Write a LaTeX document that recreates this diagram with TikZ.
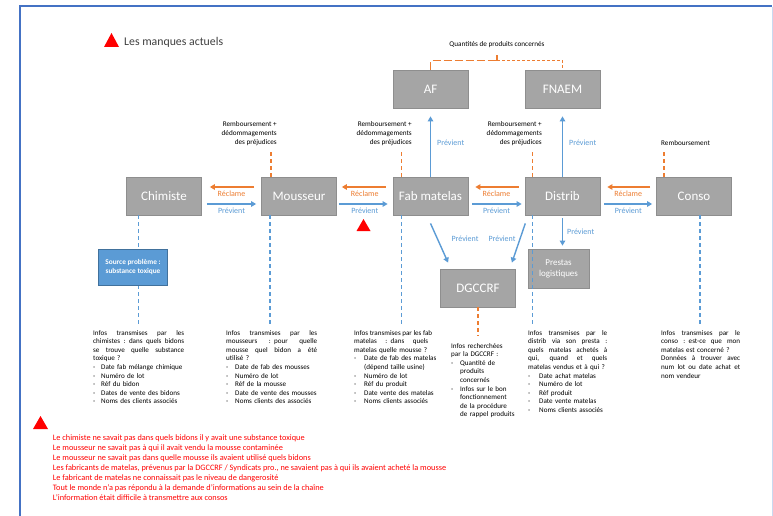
\documentclass[tikz,border=0pt]{standalone}
\usepackage{fontspec}
\setmainfont{Carlito}
\usetikzlibrary{arrows.meta,calc}
\definecolor{boxgray}{HTML}{A5A5A5}
\definecolor{boxedge}{HTML}{8E8E8E}
\definecolor{corange}{HTML}{ED7D31}
\definecolor{cblue}{HTML}{5B9BD5}
\definecolor{frameblue}{HTML}{4472C4}
\definecolor{framelight}{HTML}{C9D9F0}
\definecolor{srcedge}{HTML}{41719C}
\definecolor{legendtext}{HTML}{3F3F3F}
\definecolor{cred}{HTML}{FF0000}
\newcommand\jl[1]{\makebox[\hsize][s]{\spaceskip=0.3em plus 3em minus 0.08em\relax #1}\\}
\newcommand\bl[2][9pt]{\makebox[#1][l]{-}\mbox{#2}}
\newcommand\cl[2][9pt]{\hspace*{#1}\mbox{#2}}
\newcommand\pl[1]{\mbox{#1}}
\begin{document}
\begin{tikzpicture}[x=1pt,y=-1pt,
  box/.style={draw=boxedge, line width=0.8pt, fill=boxgray, minimum width=75pt, minimum height=38pt,
    text=white, font=\fontsize{13}{15}\selectfont, inner sep=0pt},
  oarr/.style={draw=corange, line width=1.4pt, -{Triangle[length=5pt,width=5.5pt]}},
  barr/.style={draw=cblue, line width=1.4pt, -{Triangle[length=5pt,width=5.5pt]}},
  odash/.style={draw=corange, line width=1.3pt, dash pattern=on 4pt off 3pt},
  bdash/.style={draw=cblue, line width=1.3pt, dash pattern=on 4pt off 3pt},
  rlbl/.style={text=corange, font=\fontsize{8}{9.6}\selectfont, inner sep=0pt},
  plbl/.style={text=cblue, font=\fontsize{8}{9.6}\selectfont, inner sep=0pt},
  rblabel/.style={font=\fontsize{7.2}{9}\selectfont, inner sep=0pt, align=right},
  info/.style={font=\fontsize{7.1}{8.6}\selectfont, inner sep=0pt, anchor=north west, align=left}
]
\useasboundingbox (0,0) rectangle (773,516);
\fill[white] (0,0) rectangle (773,516);
% frame
\draw[frameblue, line width=1.8pt] (20.2,516) -- (20.2,5.8) -- (772,5.8);
\draw[framelight, line width=0.8pt] (772.3,6.7) -- (772.3,516);

% legend
\fill[cred] (104,47) -- (111.5,33) -- (119,47) -- cycle;
\node[anchor=west, inner sep=0pt, text=legendtext, font=\fontsize{11.8}{14}\selectfont] (legend) at (124,42) {Les manques actuels};

% boxes
\node[box] (af) at (430.5,89) {AF};
\node[box] (fnaem) at (562.5,89) {FNAEM};
\node[box] (chim) at (164,196) {Chimiste};
\node[box] (mous) at (299,196) {Mousseur};
\node[box] (fab) at (430.5,196) {Fab matelas};
\node[box] (dist) at (562.5,196) {Distrib};
\node[box] (conso) at (694,196) {Conso};
\node[box] (dgccrf) at (478,288) {DGCCRF};
\node[box, minimum width=61pt, minimum height=39pt, align=center, font=\fontsize{9}{11}\selectfont] (presta) at (558.5,268.5) {Prestas\\logistiques};

% top: quantities
\node[inner sep=0pt, font=\fontsize{7.2}{9}\selectfont] (qty) at (497,45) {Quantités de produits concernés};
\coordinate (qj) at (497,60.7);
\coordinate (qt) at (497,55.5);
\draw[draw=corange, line width=1.4pt, dash pattern=on 8pt off 3pt] (af.north) |- (qj);
\draw[draw=corange, line width=1.2pt] (qj) -- (qt);
\draw[draw=corange, line width=0.7pt, dash pattern=on 3pt off 2pt] (qj) -| (fnaem.north);

% remboursement labels
\node[rblabel, anchor=south east] (rmous) at (277,146) {Remboursement +\\dédommagements\\des préjudices};
\node[rblabel, anchor=south east] (rfab) at (412,146) {Remboursement +\\dédommagements\\des préjudices};
\node[rblabel, anchor=south east] (rdist) at (542,146) {Remboursement +\\dédommagements\\des préjudices};
\node[rblabel, anchor=south west] (rconso) at (661,146) {Remboursement};
\draw[odash, shorten >=4pt] ([xshift=10pt]mous.north west) -- ([xshift=10pt]mous.north west |- rmous.south);
\draw[odash, shorten >=4pt] ([xshift=9pt]fab.north west) -- ([xshift=9pt]fab.north west |- rfab.south);
\draw[odash, shorten >=4pt] ([xshift=8pt]dist.north west) -- ([xshift=8pt]dist.north west |- rdist.south);
\draw[odash, shorten >=4pt] ([xshift=8pt]conso.north west) -- ([xshift=8pt]conso.north west |- rconso.south);

% horizontal arrows
\draw[oarr, shorten <=7pt, shorten >=8pt] ([yshift=9pt]mous.west) -- ([yshift=9pt]chim.east) node[rlbl, midway, yshift=-7pt] {Réclame};
\draw[barr, shorten <=5pt, shorten >=5pt] ([yshift=-8pt]chim.east) -- ([yshift=-8pt]mous.west) node[plbl, midway, yshift=-7pt] {Prévient};
\draw[oarr, shorten <=7pt, shorten >=5pt] ([yshift=9pt]fab.west) -- ([yshift=9pt]mous.east) node[rlbl, midway, yshift=-7pt] {Réclame};
\draw[barr, shorten <=2pt, shorten >=5pt] ([yshift=-8pt]mous.east) -- ([yshift=-8pt]fab.west) node[plbl, midway, yshift=-7pt] {Prévient};
\draw[oarr, shorten <=6pt, shorten >=7pt] ([yshift=9pt]dist.west) -- ([yshift=9pt]fab.east) node[rlbl, midway, yshift=-7pt] {Réclame};
\draw[barr, shorten <=4pt, shorten >=3pt] ([yshift=-8pt]fab.east) -- ([yshift=-8pt]dist.west) node[plbl, midway, yshift=-7pt] {Prévient};
\draw[oarr, shorten <=6pt, shorten >=7pt] ([yshift=9pt]conso.west) -- ([yshift=9pt]dist.east) node[rlbl, midway, yshift=-7pt] {Réclame};
\draw[barr, shorten <=4pt, shorten >=4pt] ([yshift=-8pt]dist.east) -- ([yshift=-8pt]conso.west) node[plbl, midway, yshift=-7pt] {Prévient};

% red triangle between Mousseur and Fab
\fill[cred] (356.5,231) -- (363.5,219) -- (370.5,231) -- cycle;

% vertical arrows up
\draw[barr, shorten >=8pt] (fab.north) -- (af.south) node[plbl, midway, anchor=west, xshift=6pt] {Prévient};
\draw[barr, shorten >=8pt] (dist.north) -- (fnaem.south) node[plbl, midway, anchor=west, xshift=6pt] {Prévient};
% to prestas
\draw[barr, shorten <=3pt, shorten >=3pt] (dist.south) -- (dist.south |- presta.north) node[plbl, midway, anchor=west, xshift=4pt] {Prévient};
% diagonals to DGCCRF
\draw[barr] ([yshift=-8pt]fab.south) -- ([xshift=8pt,yshift=6pt]dgccrf.north west);
\draw[barr] ([xshift=0.7pt,yshift=-8pt]dist.south west) -- ([xshift=-4pt,yshift=6pt]dgccrf.north east);
\node[plbl] (pv1) at (465,239) {Prévient};
\node[plbl] (pv2) at (502,239) {Prévient};

% info texts
\node[info, text width=91pt] (ichim) at (93,330) {%
\jl{Infos transmises par les}
\jl{chimistes : dans quels bidons}
\jl{se trouve quelle substance}
\pl{toxique ?}\\
\bl[8pt]{Date fab mélange chimique}\\
\bl[8pt]{Numéro de lot}\\
\bl[8pt]{Réf du bidon}\\
\bl[8pt]{Dates de vente des bidons}\\
\bl[8pt]{Noms des clients associés}};

\node[info, text width=91pt] (imous) at (226,330) {%
\jl{Infos transmises par les}
\jl{mousseurs : pour quelle}
\jl{mousse quel bidon a été}
\pl{utilisé ?}\\
\bl{Date de fab des mousses}\\
\bl{Numéro de lot}\\
\bl{Réf de la mousse}\\
\bl{Date de vente des mousses}\\
\bl{Noms clients des associés}};

\node[info, text width=74pt] (ifab) at (354,330) {%
\jl{Infos transmises par les fab}
\jl{matelas : dans quels}
\pl{matelas quelle mousse ?}\\
\bl[10pt]{Date de fab des matelas}\\
\cl[10pt]{(dépend taille usine)}\\
\bl[10pt]{Numéro de lot}\\
\bl[10pt]{Réf du produit}\\
\bl[10pt]{Date vente des matelas}\\
\bl[10pt]{Noms clients associés}};

\node[info, text width=80pt] (idg) at (451,343) {%
\pl{Infos recherchées}\\
\pl{par la DGCCRF :}\\
\bl{Quantité de}\\
\cl{produits}\\
\cl{concernés}\\
\bl{Infos sur le bon}\\
\cl{fonctionnement}\\
\cl{de la procédure}\\
\cl{de rappel produits}};

\node[info, text width=79pt] (idist) at (528,330) {%
\jl{Infos transmises par le}
\jl{distrib via son presta :}
\jl{quels matelas achetés à}
\jl{qui, quand et quels}
\pl{matelas vendus et à qui ?}\\
\bl[11pt]{Date achat matelas}\\
\bl[11pt]{Numéro de lot}\\
\bl[11pt]{Réf produit}\\
\bl[11pt]{Date vente matelas}\\
\bl[11pt]{Noms clients associés}};

\node[info, text width=79pt] (iconso) at (661,330) {%
\jl{Infos transmises par le}
\jl{conso : est-ce que mon}
\pl{matelas est concerné ?}\\
\jl{Données à trouver avec}
\jl{num lot ou date achat et}
\pl{nom vendeur}};

% blue dashed drops
\draw[bdash, shorten >=6pt] ([xshift=12.7pt]chim.south west) -- ([xshift=12.7pt]chim.south west |- ichim.north);
\draw[bdash, shorten >=6pt] ([xshift=9pt]mous.south west) -- ([xshift=9pt]mous.south west |- imous.north);
\draw[bdash, shorten >=6pt] ([xshift=9pt]fab.south west) -- ([xshift=9pt]fab.south west |- ifab.north);
\draw[bdash, shorten >=6pt] ([xshift=8pt]dist.south west) -- ([xshift=8pt]dist.south west |- idist.north);
\draw[bdash, shorten >=6pt] ([xshift=6pt]conso.south) -- ([xshift=6pt]conso.south |- iconso.north);
\draw[odash, shorten >=7pt] (dgccrf.south) -- (dgccrf.south |- idg.north);

% source box (over the dashed line)
\node[draw=srcedge, line width=0.8pt, fill=cblue, minimum width=69pt, minimum height=36pt, inner sep=0pt,
  text=white, align=center, font=\bfseries\fontsize{7.3}{9.3}\selectfont] (src) at (133,267) {Source problème :\\substance toxique};

% bottom list of failures
\fill[cred] (33,429) -- (40.5,416) -- (48,429) -- cycle;
\node[anchor=north west, inner sep=0pt, align=left, text=cred, font=\fontsize{8.3}{10}\selectfont] (fails) at (52.7,434.5) {%
Le chimiste ne savait pas dans quels bidons il y avait une substance toxique\\
Le mousseur ne savait pas à qui il avait vendu la mousse contaminée\\
Le mousseur ne savait pas dans quelle mousse ils avaient utilisé quels bidons\\
Les fabricants de matelas, prévenus par la DGCCRF / Syndicats pro., ne savaient pas à qui ils avaient acheté la mousse\\
Le fabricant de matelas ne connaissait pas le niveau de dangerosité\\
Tout le monde n’a pas répondu à la demande d’informations au sein de la chaîne\\
L’information était difficile à transmettre aux consos};
\end{tikzpicture}
\end{document}
